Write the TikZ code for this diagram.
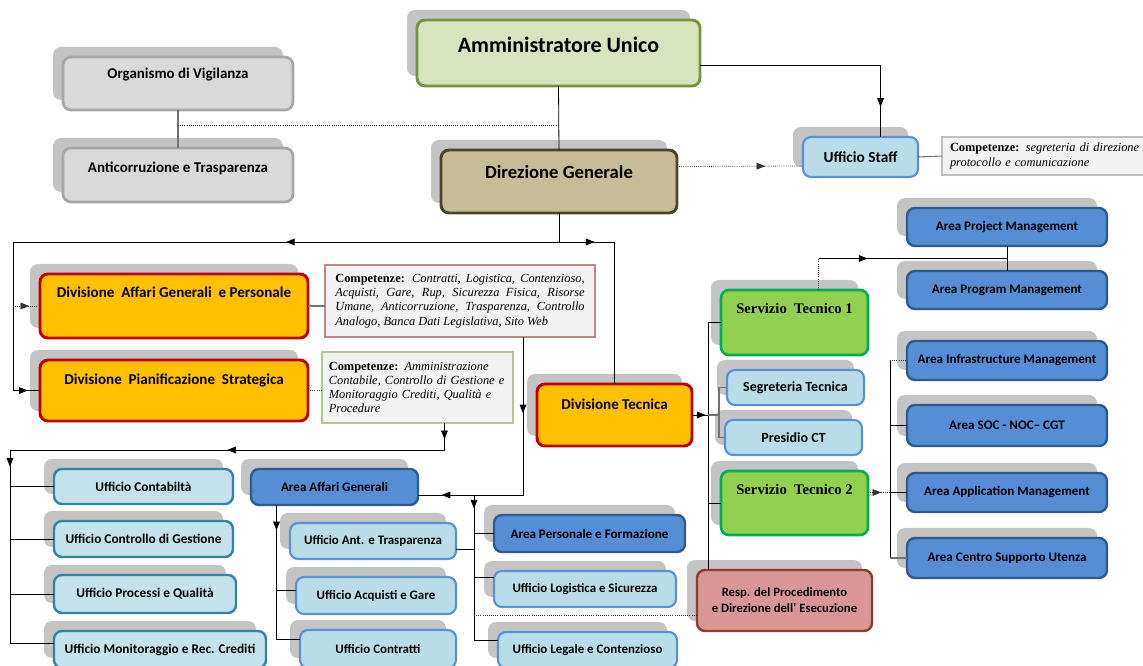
\documentclass[tikz,border=0pt]{standalone}
\usepackage{fontspec}
\setmainfont{Carlito}
\newfontfamily\compserif{Liberation Serif}
\usetikzlibrary{arrows.meta,calc,shadows,decorations.markings}

\definecolor{shadowgray}{HTML}{C4C4C4}
\definecolor{auFill}{HTML}{D7E4BD}
\definecolor{auDraw}{HTML}{77933C}
\definecolor{ovFill}{HTML}{D9D9D9}
\definecolor{ovDraw}{HTML}{A6A6A6}
\definecolor{dgFill}{HTML}{C4BD97}
\definecolor{dgDraw}{HTML}{4A452A}
\definecolor{divFill}{HTML}{FFC000}
\definecolor{divDraw}{HTML}{C00000}
\definecolor{stFill}{HTML}{92D050}
\definecolor{stDraw}{HTML}{00B050}
\definecolor{lbFill}{HTML}{B9DDE8}
\definecolor{lbDraw}{HTML}{5B8FD6}
\definecolor{tlFill}{HTML}{C3E2EC}
\definecolor{tlDraw}{HTML}{31859C}
\definecolor{areaFill}{HTML}{558ED5}
\definecolor{areaDraw}{HTML}{2F5A8C}
\definecolor{rpFill}{HTML}{D99694}
\definecolor{rpDraw}{HTML}{953735}
\definecolor{compFill}{HTML}{F2F2F2}

\tikzset{
  box/.style={draw, rounded corners=6pt, inner sep=0pt, outer sep=0pt, align=center,
    general shadow={fill=shadowgray, shadow xshift=-7.5pt, shadow yshift=7.5pt}},
  sz/.style 2 args={minimum width=#1, minimum height=#2},
  upper/.style={text height=8pt, text depth=#1},
  aubox/.style={box, fill=auFill, draw=auDraw, line width=2.2pt, font=\fontsize{16.5}{18}\selectfont\bfseries},
  ovbox/.style={box, fill=ovFill, draw=ovDraw, line width=2pt, font=\fontsize{11.2}{13}\selectfont\bfseries},
  dgbox/.style={box, fill=dgFill, draw=dgDraw, line width=2.2pt, font=\fontsize{14}{16}\selectfont\bfseries},
  divbox/.style={box, fill=divFill, draw=divDraw, line width=2.2pt, font=\fontsize{11.3}{13}\selectfont\bfseries},
  stbox/.style={box, fill=stFill, draw=stDraw, line width=2pt, font=\compserif\fontsize{11}{13}\selectfont\bfseries},
  lbbox/.style={box, fill=lbFill, draw=lbDraw, line width=1.6pt, font=\fontsize{10.5}{12}\selectfont\bfseries},
  ufbox/.style={lbbox, font=\fontsize{9.7}{11}\selectfont\bfseries},
  tlbox/.style={box, fill=tlFill, draw=tlDraw, line width=1.8pt, font=\fontsize{10}{12}\selectfont\bfseries},
  areabox/.style={box, fill=areaFill, draw=areaDraw, line width=1.8pt, font=\fontsize{9.8}{11}\selectfont\bfseries},
  rpbox/.style={box, fill=rpFill, draw=rpDraw, line width=1.8pt, font=\fontsize{9.5}{12}\selectfont\bfseries},
  compbox/.style={draw=#1, fill=compFill, line width=0.8pt, inner sep=0pt, outer sep=0pt,
    font=\compserif\fontsize{9.3}{10.7}\selectfont},
  link/.style={draw=black, line width=0.6pt},
  grayline/.style={draw=black!55, line width=0.8pt},
  dotline/.style={draw=black!80, line width=0.6pt, densely dotted},
  arrowat/.style={postaction={decorate, decoration={markings,
    mark=at position #1 with {\arrow{Triangle[length=6.5pt, width=5pt]}}}}}
}

\begin{document}
\begin{tikzpicture}[x=0.75pt,y=0.75pt,yscale=-1,xscale=1]
\useasboundingbox (0,0) rectangle (1143,666);

% Vertice
\node[aubox, sz={212.25pt}{49.5pt}, upper=9.2pt] (au) at (558.5,53) {Amministratore Unico};
\node[ovbox, sz={172.5pt}{39.75pt}, upper=14.8pt] (ov) at (178,83.5) {Organismo di Vigilanza};
\node[ovbox, sz={172.5pt}{40.5pt}, upper=11.1pt] (ac) at (178,175) {Anticorruzione e Trasparenza};
\node[dgbox, sz={177pt}{47.25pt}, upper=13pt] (dg) at (559,181.5) {Direzione Generale};
\node[lbbox, font=\fontsize{11.5}{13}\selectfont\bfseries, sz={86.25pt}{30pt}] (staff) at (860.5,157) {Ufficio Staff};
\node[compbox=black!25, sz={165pt}{28.5pt}, text width=153pt, align=left] (cstaff) at (1052,156)
  {\textbf{Competenze:} \textit{segreteria di direzione}\\\textit{protocollo e comunicazione}};

% Divisioni
\node[divbox, sz={201pt}{48pt}, upper=20pt] (dagp) at (174,306) {Divisione\ \ Affari Generali\ \ e Personale};
\node[compbox=rpDraw!60, sz={202.5pt}{54pt}, text width=187pt, align=justify] (cdagp) at (460,301)
  {\hyphenpenalty=10000\textbf{Competenze:} \textit{Contratti, Logistica, Contenzioso,\linebreak Acquisti, Gare, Rup, Sicurezza Fisica, Risorse\linebreak Umane, Anticorruzione, Trasparenza, Controllo\linebreak Analogo, Banca Dati Legislativa, Sito Web}};
\node[divbox, sz={201pt}{45.75pt}, upper=16.4pt] (dps) at (174,390.5) {Divisione\ \ Pianificazione\ \ Strategica};
\node[compbox=auDraw!55, sz={143.25pt}{53.25pt}, text width=133pt, align=left] (cdps) at (417.5,387.5)
  {\textbf{Competenze:} \textit{Amministrazione}\\\textit{Contabile, Controllo di Gestione e}\\\textit{Monitoraggio Crediti, Qualità e}\\\textit{Procedure}};
\node[divbox, sz={116.25pt}{46.5pt}, upper=15.6pt] (dt) at (614.5,415) {Divisione Tecnica};

% Divisione Tecnica
\node[stbox, sz={110.25pt}{48.75pt}, upper=21pt] (st1) at (794.5,322.5) {Servizio\ \ Tecnico 1};
\node[lbbox, sz={102.75pt}{26.25pt}] (seg) at (795.5,387.5) {Segreteria Tecnica};
\node[lbbox, sz={102.75pt}{26.25pt}] (pct) at (793.5,437.5) {Presidio CT};
\node[stbox, sz={110.25pt}{48pt}, upper=21pt] (st2) at (794.5,503) {Servizio\ \ Tecnico 2};
\node[rpbox, sz={131.25pt}{45.75pt}] (resp) at (784.5,600.5) {Resp. del Procedimento\\e Direzione dell' Esecuzione};
\node[areabox, sz={150pt}{28.5pt}] (apj) at (1007,227) {Area Project Management};
\node[areabox, sz={150pt}{28.5pt}] (apg) at (1007,290) {Area Program Management};
\node[areabox, sz={150pt}{29.25pt}] (aim) at (1007,360.5) {Area Infrastructure Management};
\node[areabox, sz={150pt}{30.75pt}] (asoc) at (1007,425.5) {Area SOC - NOC-- CGT};
\node[areabox, sz={150pt}{29.25pt}] (aapp) at (1007,492.5) {Area Application Management};
\node[areabox, sz={150pt}{30pt}] (acsu) at (1007,558) {Area Centro Supporto Utenza};

% Pianificazione Strategica
\node[tlbox, sz={134.25pt}{26.25pt}] (ucont) at (143.5,486.5) {Ufficio Contabiltà};
\node[tlbox, sz={134.25pt}{27pt}] (ucdg) at (143.5,539) {Ufficio Controllo di Gestione};
\node[tlbox, sz={136.5pt}{28.5pt}] (upq) at (145,594) {Ufficio Processi e Qualità};
\node[tlbox, sz={159pt}{27.75pt}] (umon) at (160,649.5) {Ufficio Monitoraggio e Rec. Crediti};

% Affari Generali e Personale
\node[areabox, sz={125.25pt}{27pt}] (aag) at (334.5,487) {Area Affari Generali};
\node[ufbox, sz={124.5pt}{27pt}] (uant) at (373,541) {Ufficio Ant. e Trasparenza};
\node[ufbox, sz={120pt}{27.75pt}] (uacq) at (376,595.5) {Ufficio Acquisti e Gare};
\node[ufbox, sz={117pt}{28.5pt}] (ucontr) at (378,649) {Ufficio Contratti};
\node[areabox, sz={143.25pt}{27.75pt}] (apf) at (589.5,533.5) {Area Personale e Formazione};
\node[ufbox, sz={136.5pt}{27pt}] (ulog) at (585,589) {Ufficio Logistica e Sicurezza};
\node[ufbox, sz={134.25pt}{27pt}] (uleg) at (587.5,650) {Ufficio Legale e Contenzioso};

% punti di snodo
\coordinate (ovmid) at ($(ov.south)!0.4!(ac.north)$);
\coordinate (busA) at ($(dg.south)+(0,29)$);
\coordinate (busL) at ($(dagp.west |- busA)+(-27,0)$);
\coordinate (cdagpB) at ($(cdagp.south)+(63,0)$);
\coordinate (aagE) at ($(aag.east)+(0,8)$);
\coordinate (busD) at ($(apf.west |- aagE)+(-20,0)$);
\coordinate (cdpsB) at ($(cdps.south)+(27,0)$);
\coordinate (busE) at ($(cdpsB)+(0,27)$);
\coordinate (busF) at ($(ucont.west |- busE)+(-44,0)$);
\coordinate (aagB) at ($(aag.south)+(-58,0)$);
\coordinate (busT) at ($(dt.east)+(16,0)$);
\coordinate (brk) at ($(seg.west |- busT)+(-8,0)$);
\coordinate (st1T) at ($(st1.north)+(24,0)$);
\coordinate (pmBus) at ($(apj.south)!0.5!(apg.north)$);
\coordinate (busR2) at ($(aapp.west)+(-17,0)$);

% collegamenti vertice
\draw[link] (au.south) -- (dg.north);
\draw[grayline] (ov.south) -- (ac.north);
\draw[dotline] (ovmid) -- (ovmid -| dg.north);
\draw[link, arrowat=0.88] ($(au.east)+(0,12)$) -| ($(staff.north)+(20,0)$);
\draw[dotline, arrowat=0.7] ($(dg.east)+(0,-15)$) -- ($(staff.west)+(0,9)$);
\draw[grayline] (staff.east) -- (cstaff.west);

% collegamenti divisioni
\draw[link] (dg.south) -- (busA);
\draw[link, arrowat=0.5] (busA) -- (busL);
\draw[link, arrowat=0.18] (busA) -| (dt.north);
\draw[link, arrowat=0.93] (busL) |- (dps.west);
\draw[dotline, arrowat=0.6] (busL |- dagp.west) -- (dagp.west);
\draw[grayline] (dagp.east) -- (dagp.east -| cdagp.west);
\draw[dotline] (dps.east) -- (dps.east -| cdps.west);

% Affari Generali e Personale
\draw[link, arrowat=0.29, arrowat=0.91] (cdagpB) |- (aagE);
\draw[link, arrowat=0.08] (busD) |- ($(uleg.west)+(0,-10)$);
\draw[link] (busD |- apf.west) -- (apf.west);
\draw[link] ($(busD |- ulog.west)+(0,-12)$) -- ($(ulog.west)+(0,-12)$);
\draw[link] ($(uant.east)+(0,8)$) -- ($(busD |- uant.east)+(0,8)$);
\draw[dotline] ($(busD |- resp.west)+(0,15)$) -- ($(resp.west)+(0,15)$);
\draw[link, arrowat=0.16] (aagB) |- ($(ucontr.west)+(0,-10)$);
\draw[link] ($(aagB |- uacq.west)+(0,-5)$) -- ($(uacq.west)+(0,-5)$);

% Pianificazione Strategica
\draw[link, arrowat=0.6] (cdpsB) -- (busE);
\draw[link, arrowat=0.5] (busE) -- (busF);
\draw[link, arrowat=0.07] (busF) |- ($(umon.west)+(0,-6)$);
\draw[link] (busF |- ucont.west) -- (ucont.west);
\draw[link] (busF |- ucdg.west) -- (ucdg.west);
\draw[link] (busF |- upq.west) -- (upq.west);

% Divisione Tecnica
\draw[link, arrowat=0.85] (dt.east) -- (busT);
\draw[link] (busT |- st1.west) -- (st1.west);
\draw[link] (busT |- st1.west) -- (busT |- resp.north);
\draw[link] (busT |- st2.west) -- (st2.west);
\draw[grayline] (busT) -- (brk);
\draw[grayline] (seg.west) -| (brk) |- (pct.west);
\draw[dotline] (st1T) -- (st1T |- pmBus);
\draw[link, arrowat=0.26] (st1T |- pmBus) -- (pmBus);
\draw[link] (apj.south) -- (apg.north);
\draw[dotline, arrowat=0.6] (st2.east |- aapp.west) -- (busR2);
\draw[link] (busR2) -- (aapp.west);
\draw[link] (busR2 |- aim.west) -- (busR2 |- acsu.west);
\draw[dotline] (busR2 |- aim.west) -- (aim.west);
\draw[link] (busR2 |- asoc.west) -- (asoc.west);
\draw[grayline] (busR2 |- acsu.west) -- (acsu.west);

\end{tikzpicture}
\end{document}
